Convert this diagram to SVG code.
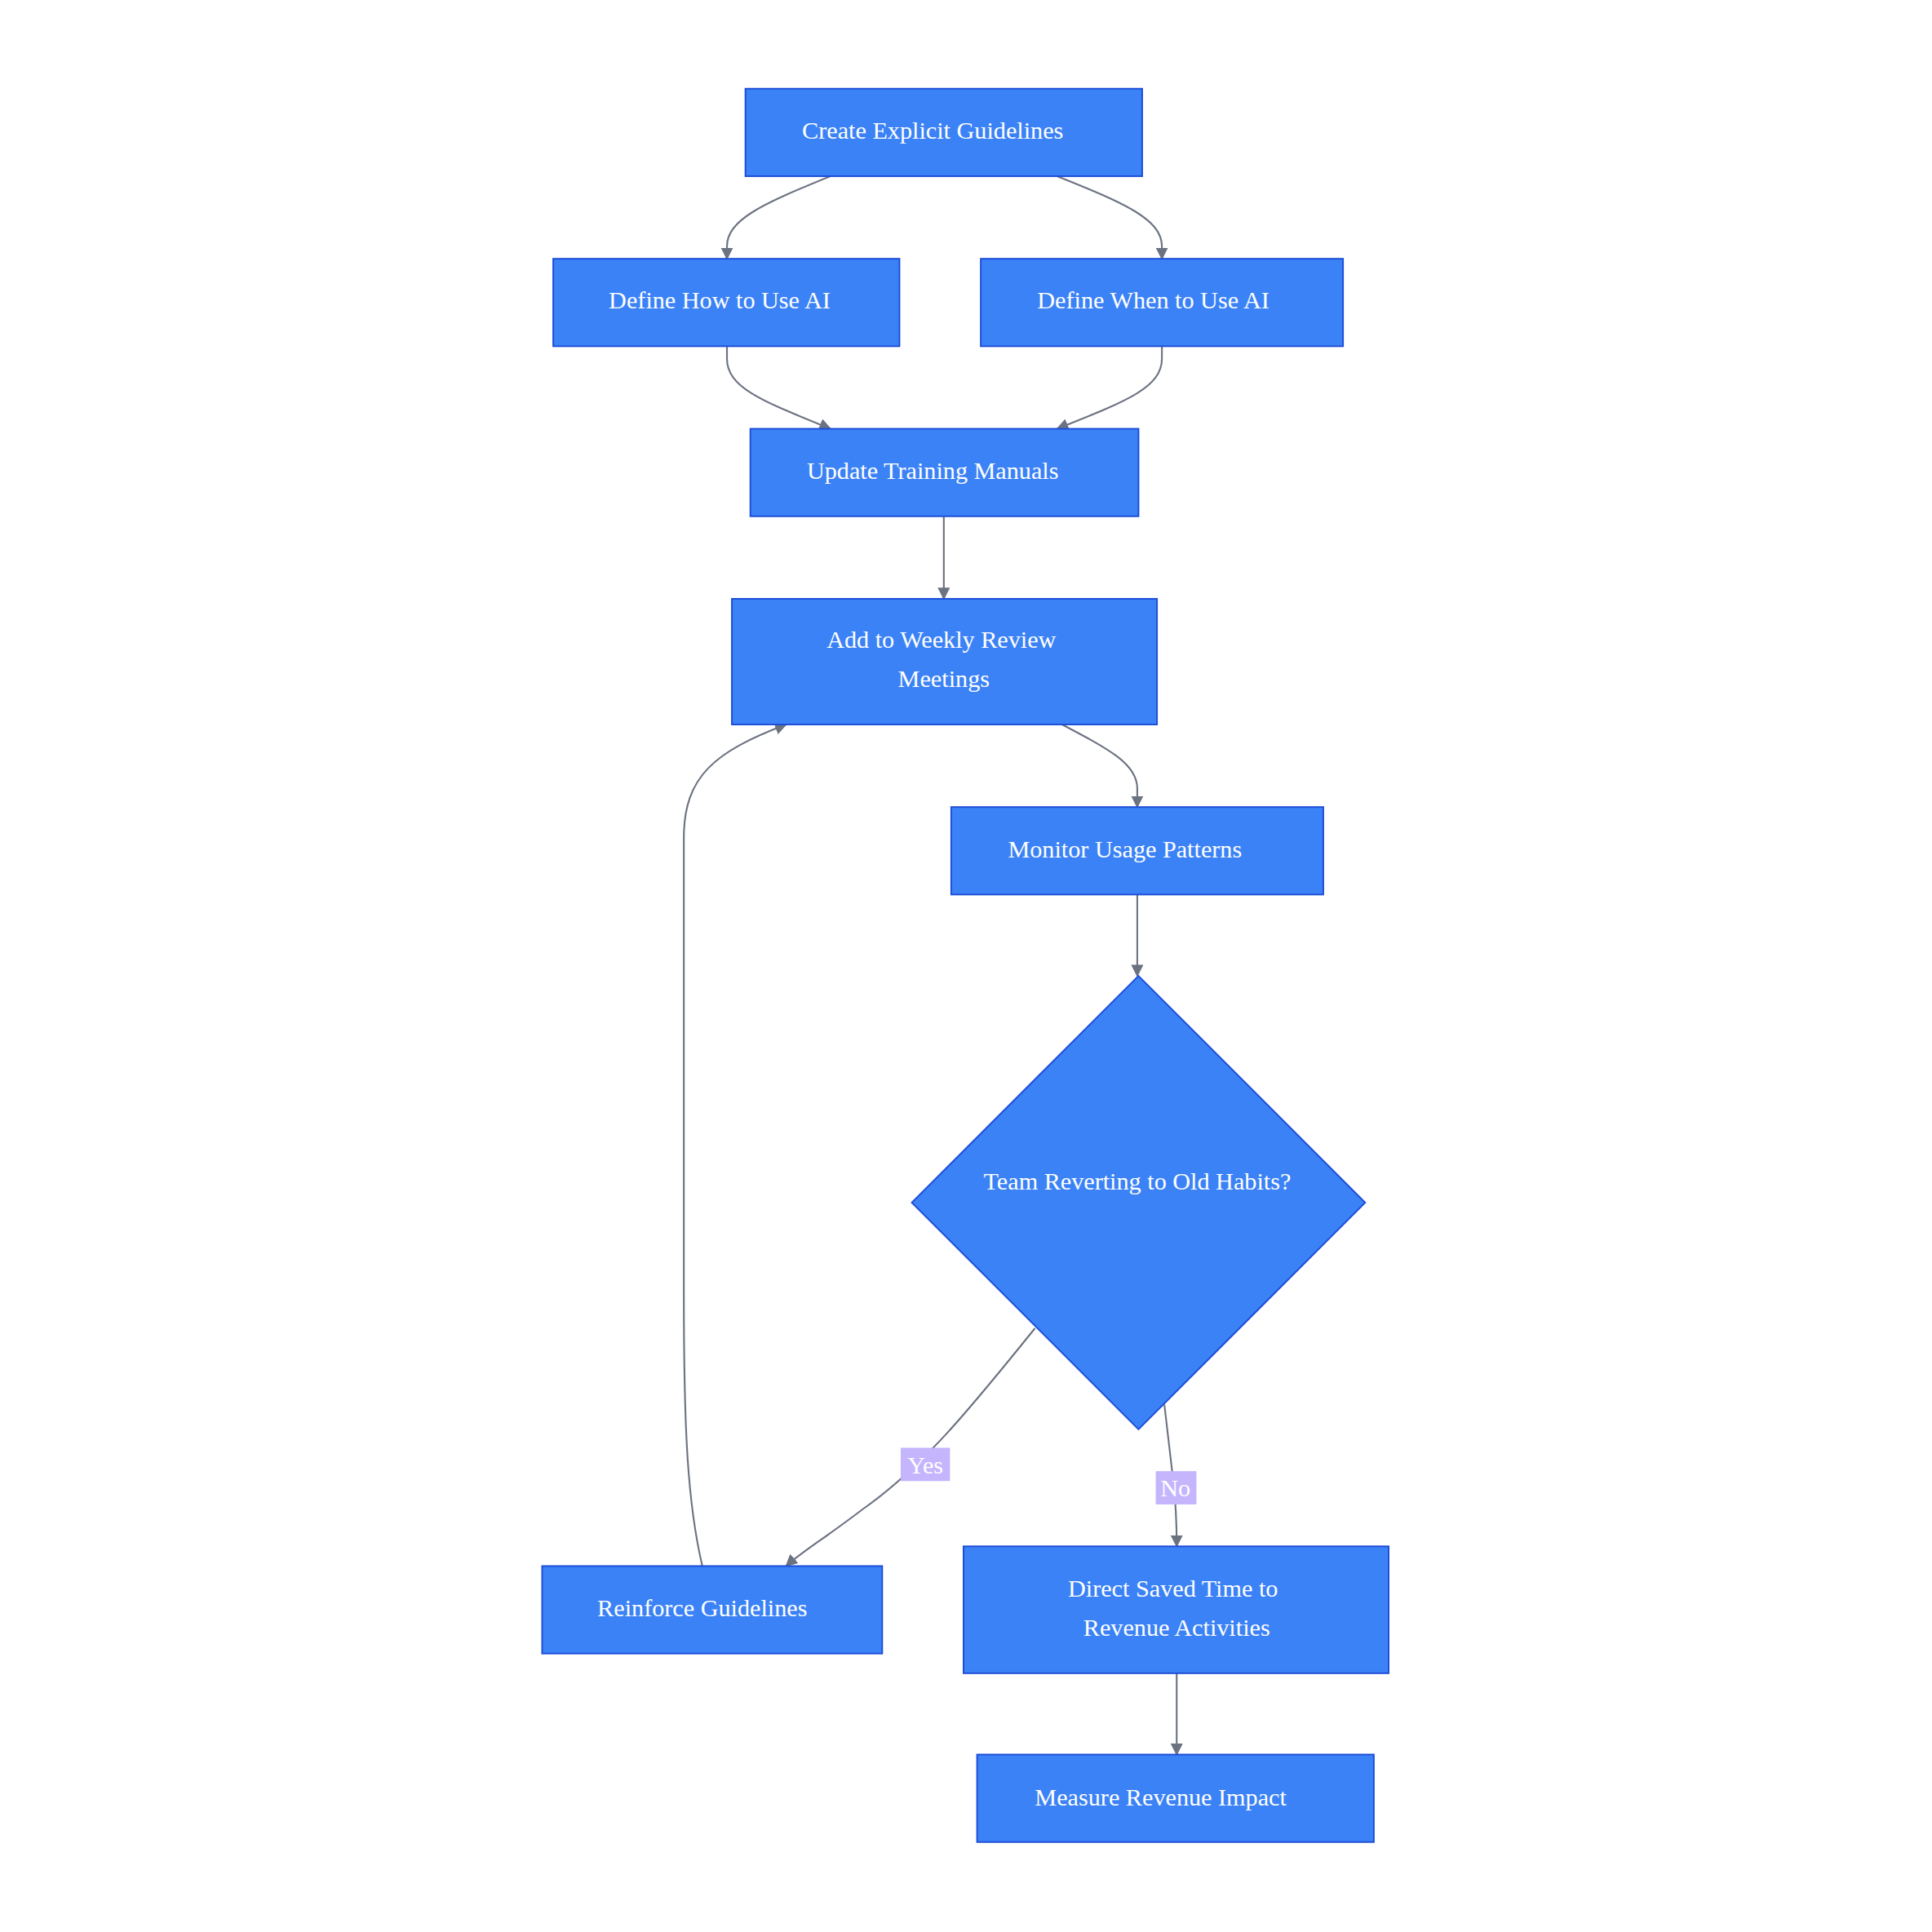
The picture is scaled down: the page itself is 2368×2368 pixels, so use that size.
<svg xmlns="http://www.w3.org/2000/svg" width="2368" height="2368" viewBox="0 0 2368 2368">
<style>
.n{fill:#3b82f6;stroke:#1d4ed8;stroke-width:1.3}
.t{fill:#fff;font-family:"Liberation Serif",serif;font-size:20px;text-anchor:middle;dominant-baseline:central}
.e{fill:none;stroke:#6b7280;stroke-width:1.4}
.lb{fill:#c4b5fd}
</style>
<defs>
<marker id="a" viewBox="0 0 10 10" refX="9" refY="5" markerWidth="10" markerHeight="10" markerUnits="userSpaceOnUse" orient="auto">
<path d="M0,0 L10,5 L0,10 z" fill="#6b7280"/>
</marker>
</defs>
<rect width="2368" height="2368" fill="#fff"/>
<g transform="scale(1.5102)">
<g id="connectors">
<path class="e" marker-end="url(#a)" d="M674,143 C620,165 590,178 590,200 L590,210"/>
<path class="e" marker-end="url(#a)" d="M858,143 C913,165 943,178 943,200 L943,210"/>
<path class="e" marker-end="url(#a)" d="M590,281 L590,291 C590,315 620,326 674,348"/>
<path class="e" marker-end="url(#a)" d="M943,281 L943,291 C943,315 913,326 858,348"/>
<path class="e" marker-end="url(#a)" d="M766,419 L766,486"/>
<path class="e" marker-end="url(#a)" d="M862,588 C900,608 923,620 923,640 L923,655"/>
<path class="e" marker-end="url(#a)" d="M923,726 L923,792"/>
<path class="e" marker-end="url(#a)" d="M840,1078 C790,1140 750,1190 700,1225 C670,1248 650,1260 638,1271"/>
<path class="e" marker-end="url(#a)" d="M945,1140 L952,1200 C955,1225 955,1240 955,1255"/>
<path class="e" marker-end="url(#a)" d="M570,1271 C558,1220 555,1160 555,1050 L555,680 C555,630 580,610 638,588"/>
<path class="e" marker-end="url(#a)" d="M955,1358 L955,1424"/>
<rect class="lb" x="731" y="1175" width="40" height="27"/>
<text class="t" x="751" y="1189">Yes</text>
<rect class="lb" x="938" y="1194" width="33" height="27"/>
<text class="t" x="954" y="1208">No</text>
</g>
<g id="n1"><rect class="n" x="605" y="72" width="322" height="71"/><text class="t" x="757" y="106">Create Explicit Guidelines</text></g>
<g id="n2"><rect class="n" x="449" y="210" width="281" height="71"/><text class="t" x="584" y="244">Define How to Use AI</text></g>
<g id="n3"><rect class="n" x="796" y="210" width="294" height="71"/><text class="t" x="936" y="244">Define When to Use AI</text></g>
<g id="n4"><rect class="n" x="609" y="348" width="315" height="71"/><text class="t" x="757" y="382">Update Training Manuals</text></g>
<g id="n5"><rect class="n" x="594" y="486" width="345" height="102"/><text class="t" x="764" y="519">Add to Weekly Review</text><text class="t" x="766" y="551">Meetings</text></g>
<g id="n6"><rect class="n" x="772" y="655" width="302" height="71"/><text class="t" x="913" y="689">Monitor Usage Patterns</text></g>
<g id="n7"><polygon class="n" points="924,792 1108,976 924,1160 740,976"/><text class="t" x="923" y="959">Team Reverting to Old Habits?</text></g>
<g id="n8"><rect class="n" x="440" y="1271" width="276" height="71"/><text class="t" x="570" y="1305">Reinforce Guidelines</text></g>
<g id="n9"><rect class="n" x="782" y="1255" width="345" height="103"/><text class="t" x="952" y="1289">Direct Saved Time to</text><text class="t" x="955" y="1321">Revenue Activities</text></g>
<g id="n10"><rect class="n" x="793" y="1424" width="322" height="71"/><text class="t" x="942" y="1459">Measure Revenue Impact</text></g>
</g>
</svg>
